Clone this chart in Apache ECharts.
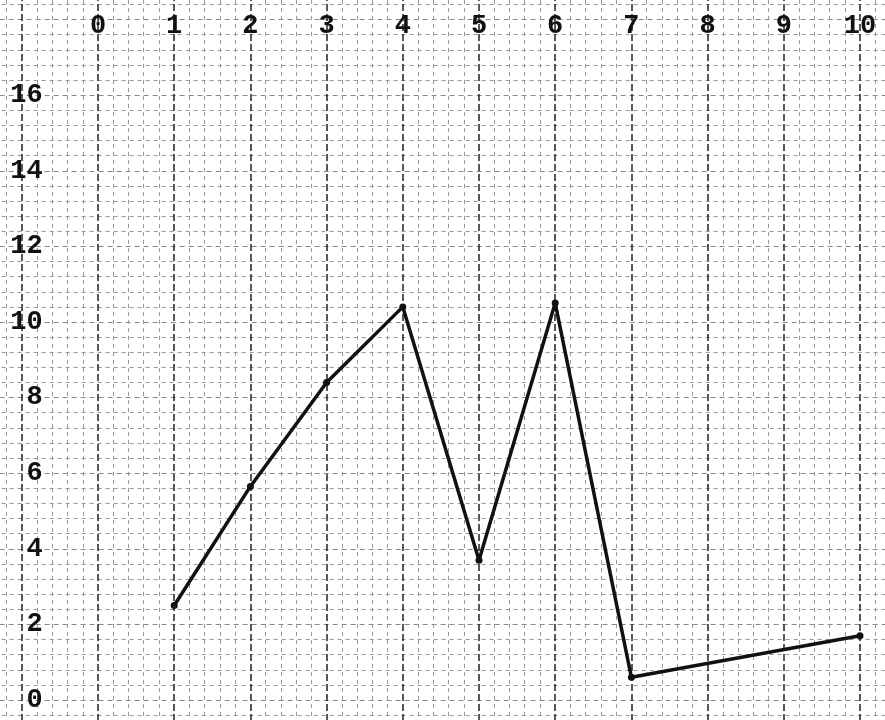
<!DOCTYPE html>
<html>
<head>
<meta charset="utf-8">
<script src="https://cdn.jsdelivr.net/npm/echarts@6/dist/echarts.min.js"></script>
<style>
html,body{margin:0;padding:0;background:#fff;}
#chart{width:885px;height:720px;}
</style>
</head>
<body>
<div id="chart"></div>
<script>
// Data (hand-drawn graph)
const xValues = [1, 2, 3, 4, 5, 6, 7, 10];
const yValues = [2.5, 5.65, 8.4, 10.4, 3.7, 10.5, 0.6, 1.7];
const xTickLabels = ['0','1','2','3','4','5','6','7','8','9','10'];
const yTickLabels = ['0','2','4','6','8','10','12','14','16'];

const points = xValues.map((x, i) => [x, yValues[i]]);
const font = '"Liberation Mono", "DejaVu Sans Mono", monospace';

const chart = echarts.init(document.getElementById('chart'), null, {renderer: 'canvas'});
chart.setOption({
  backgroundColor: '#ffffff',
  animation: false,
  grid: {left: -54.4, right: -51.2, top: -56, bottom: -55.6, containLabel: false, outerBoundsMode: 'none'},
  xAxis: {
    type: 'value',
    position: 'top',
    min: -2, max: 11, interval: 1,
    axisLine: {show: false},
    axisTick: {show: false},
    axisLabel: {
      inside: true,
      margin: 82,
      fontFamily: font,
      fontSize: 27,
      fontWeight: 'bold',
      color: '#111',
      verticalAlign: 'middle',
      formatter: v => (xTickLabels.indexOf(String(v)) >= 0 ? String(v) : '')
    },
    splitLine: {show: true, lineStyle: {color: '#222', width: 1.5, type: [7, 3]}},
    minorTick: {show: false, splitNumber: 5},
    minorSplitLine: {show: true, lineStyle: {color: '#999', width: 1, type: [4, 4]}}
  },
  yAxis: {
    type: 'value',
    min: -2, max: 20, interval: 2,
    axisLine: {show: false},
    axisTick: {show: false},
    axisLabel: {
      inside: true,
      margin: 97,
      align: 'right',
      fontFamily: font,
      fontSize: 27,
      fontWeight: 'bold',
      color: '#111',
      formatter: v => (yTickLabels.indexOf(String(v)) >= 0 ? String(v) : '')
    },
    splitLine: {show: true, lineStyle: {color: '#888', width: 1, type: [5, 4]}},
    minorTick: {show: false, splitNumber: 5},
    minorSplitLine: {show: true, lineStyle: {color: '#999', width: 1, type: [4, 4]}}
  },
  series: [{
    type: 'line',
    data: points,
    symbol: 'circle',
    symbolSize: 7,
    itemStyle: {color: '#111'},
    lineStyle: {color: '#111', width: 3.5},
    z: 5
  }]
});
</script>
</body>
</html>
